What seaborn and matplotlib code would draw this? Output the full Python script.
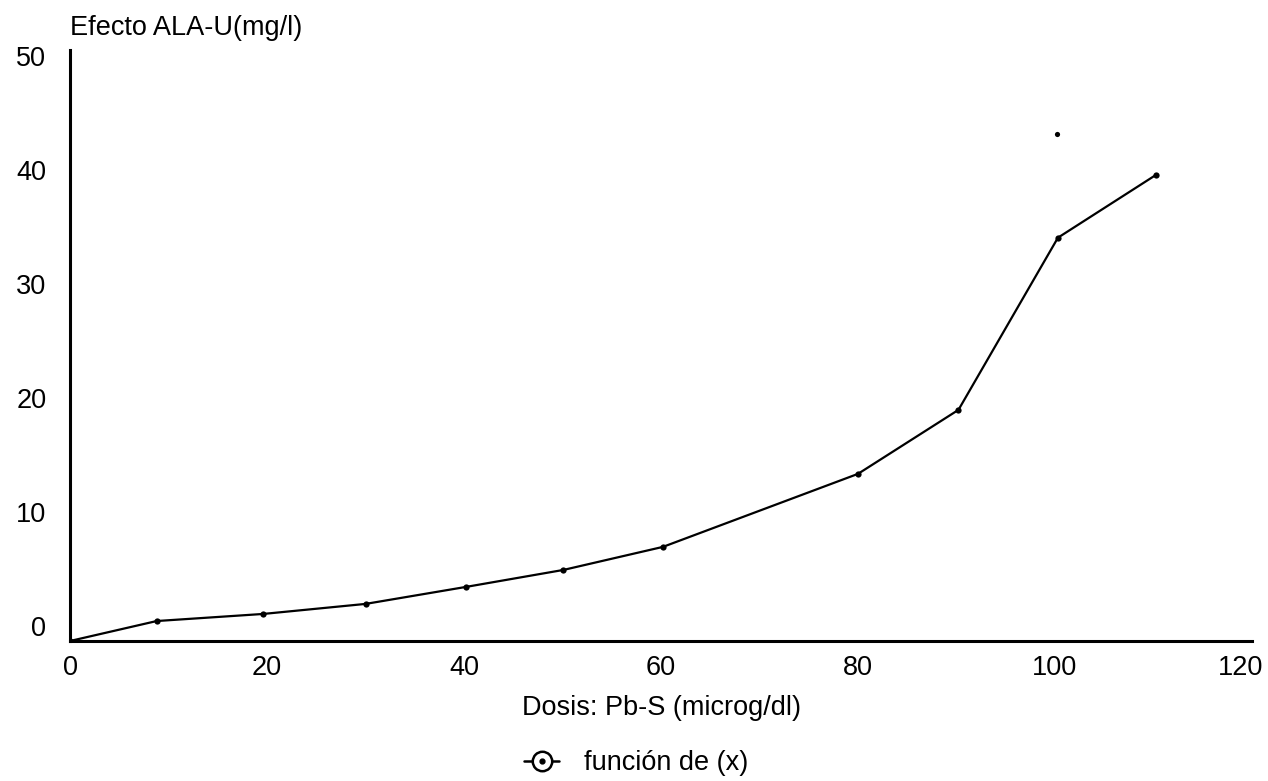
import numpy as np
import pandas as pd
import matplotlib
matplotlib.use("Agg")
import matplotlib.pyplot as plt
import matplotlib.transforms as mtransforms
from matplotlib.lines import Line2D
import seaborn as sns

# values
dosis = [0, 8.8, 19.6, 30, 40.2, 50.1, 60.2, 80, 90.2, 100.3, 110.3]
efecto = [0, 1.75, 2.37, 3.25, 4.74, 6.23, 8.25, 14.65, 20.26, 35.35, 40.88]
# stray point above the curve near x=100
suelto_x = [100.2]
suelto_y = [44.4]

xticks = [0, 20, 40, 60, 80, 100, 120]
yticks = [0, 10, 20, 30, 40, 50]

sns.set_theme(style="white")
plt.rcParams['font.family'] = ['Liberation Sans', 'DejaVu Sans']
plt.rcParams['text.color'] = 'black'

fs = 19.5

df = pd.DataFrame({'dosis': dosis, 'efecto': efecto})

fig = plt.figure(figsize=(12.68, 7.81), dpi=100)
ax = fig.add_axes([70/1268, 1 - 641/781, (1252-70)/1268, (641-50)/781])

sns.lineplot(data=df, x='dosis', y='efecto', ax=ax, color='black', linewidth=1.6,
             marker='o', markersize=4.5, markeredgewidth=0, estimator=None, sort=False)
sns.scatterplot(x=suelto_x, y=suelto_y, ax=ax, color='black', s=14, linewidth=0)

ax.set_xlim(0, 120)
ax.set_ylim(0, 51.8)
ax.set_xticks(xticks)
ax.set_yticks(yticks)
ax.tick_params(axis='both', length=0, labelsize=fs, colors='black')
ax.tick_params(axis='x', pad=10)
ax.tick_params(axis='y', pad=17)

# the scanned y labels sit a little above their levels
off = mtransforms.ScaledTranslation(0, 15/100, fig.dpi_scale_trans)
for lab in ax.get_yticklabels():
    lab.set_transform(lab.get_transform() + off)
# last x label is pulled in from the edge
xl = ax.get_xticklabels()
xl[-1].set_transform(xl[-1].get_transform() + mtransforms.ScaledTranslation(-11/100, 0, fig.dpi_scale_trans))

for side in ['top', 'right']:
    ax.spines[side].set_visible(False)
for side in ['left', 'bottom']:
    ax.spines[side].set_color('black')
    ax.spines[side].set_linewidth(2.2)

ax.set_xlabel('Dosis: Pb-S (microg/dl)', fontsize=fs, labelpad=10, color='black')
ax.set_ylabel('')
fig.text(70/1268, 1 - 28/781, 'Efecto ALA-U(mg/l)', fontsize=fs, ha='left', va='center', color='black')

h1 = Line2D([], [], color='black', linewidth=1.8, marker='o', markersize=14,
            markerfacecolor='white', markeredgecolor='black', markeredgewidth=1.8)
h2 = Line2D([], [], linestyle='none', marker='o', markersize=3.5, color='black')
fig.legend([(h1, h2)], ['función de (x)'], loc='center',
           bbox_to_anchor=(636/1268, 1 - 763/781), frameon=False, fontsize=fs,
           handlelength=1.3, handletextpad=0.9)

plt.savefig('out.png', dpi=100)
